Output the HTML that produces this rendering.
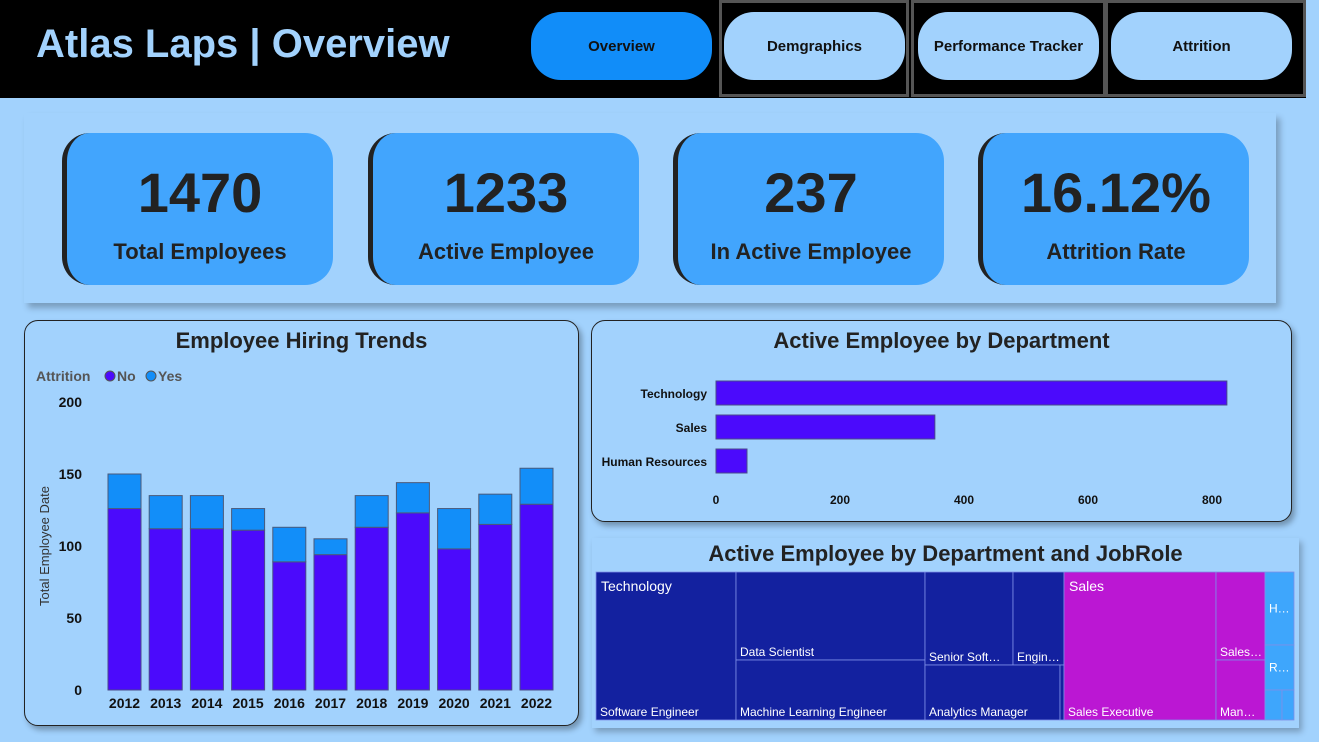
<!DOCTYPE html>
<html><head><meta charset="utf-8"><style>
*{box-sizing:border-box;margin:0;padding:0}
body{width:1319px;height:742px;background:#a2d2fd;font-family:"Liberation Sans","DejaVu Sans",sans-serif;position:relative;overflow:hidden}
.abs{position:absolute}
.hdr{left:0;top:0;width:1306px;height:98px;background:#000}
.title{left:36px;top:22px;font-size:40px;font-weight:bold;color:#a2d2fd}
.navbox{top:0;height:97px;border:3px solid #555}
.btn{top:12px;height:68px;border-radius:30px;background:#a2d2fd;font-weight:bold;font-size:15px;color:#111;display:flex;align-items:center;justify-content:center}
.kpibox{left:24px;top:113px;width:1252px;height:190px;background:#a2d2fd;box-shadow:4px 5px 6px rgba(0,0,0,.25)}
.card{top:133px;width:271px;height:152px;background:#42a5fd;border-radius:28px;border-left:5px solid #222;text-align:center;color:#222}
.card .v{font-size:56px;font-weight:bold;margin-top:30px;line-height:60px}
.card .l{font-size:22px;font-weight:bold;margin-top:16px}
.panel{border:1.5px solid #222;border-radius:14px;background:#a2d2fd;box-shadow:3px 4px 6px rgba(0,0,0,.3)}
.pt{font-size:22px;font-weight:bold;color:#222;text-align:center}
</style></head><body>
<div class="abs hdr"></div>
<div class="abs title">Atlas Laps | Overview</div>
<div class="abs navbox" style="left:719px;width:190px"></div>
<div class="abs navbox" style="left:911px;width:195px"></div>
<div class="abs navbox" style="left:1105px;width:201px"></div>
<div class="abs btn" style="left:531px;width:181px;background:#118df9">Overview</div>
<div class="abs btn" style="left:724px;width:181px">Demgraphics</div>
<div class="abs btn" style="left:918px;width:181px">Performance Tracker</div>
<div class="abs btn" style="left:1111px;width:181px">Attrition</div>

<div class="abs kpibox"></div>
<div class="abs card" style="left:62px"><div class="v">1470</div><div class="l">Total Employees</div></div>
<div class="abs card" style="left:368px"><div class="v">1233</div><div class="l">Active Employee</div></div>
<div class="abs card" style="left:673px"><div class="v">237</div><div class="l">In Active Employee</div></div>
<div class="abs card" style="left:978px"><div class="v">16.12%</div><div class="l">Attrition Rate</div></div>

<div class="abs panel" style="left:24px;top:320px;width:555px;height:406px"></div>
<div class="abs pt" style="left:24px;top:328px;width:555px">Employee Hiring Trends</div>

<div class="abs panel" style="left:591px;top:320px;width:701px;height:202px"></div>
<div class="abs pt" style="left:591px;top:328px;width:701px">Active Employee by Department</div>

<div class="abs" style="left:592px;top:538px;width:707px;height:190px;background:#a2d2fd;box-shadow:3px 4px 6px rgba(0,0,0,.25)"></div>
<div class="abs pt" style="left:592px;top:541px;width:707px">Active Employee by Department and JobRole</div>
<svg class="abs" style="left:0;top:0" width="1319" height="742" id="svg2"></svg>
<svg class="abs" style="left:0;top:0" width="1319" height="742" id="svg1"></svg>

<script>
const years=["2012","2013","2014","2015","2016","2017","2018","2019","2020","2021","2022"];
const noVals=[126,112,112,111,89,94,113,123,98,115,129];
const yesVals=[24,23,23,15,24,11,22,21,28,21,25];
const yTicks=[0,50,100,150,200];
const depts=["Technology","Sales","Human Resources"];
const deptVals=[824,353,50];
const xTicks=[0,200,400,600,800];
const NS="http://www.w3.org/2000/svg";
function mk(svg,tag,attrs,txt){const e=document.createElementNS(NS,tag);for(const k in attrs)e.setAttribute(k,attrs[k]);if(txt!==undefined)e.textContent=txt;svg.appendChild(e);return e;}
const s1=document.getElementById('svg1');
const y=v=>690-v*1.44;
const bx=i=>108+i*41.2;
let t=mk(s1,'text',{x:36,y:381,'font-size':14,'font-weight':'bold',fill:'#555'},'Attrition');

let c=mk(s1,'circle',{cx:110,cy:376,r:5,fill:'#4b0afc',stroke:'#555'});

t=mk(s1,'text',{x:117,y:381,'font-size':14,'font-weight':'bold',fill:'#555'},'No');

c=mk(s1,'circle',{cx:151,cy:376,r:5,fill:'#128ef9',stroke:'#555'});

t=mk(s1,'text',{x:158,y:381,'font-size':14,'font-weight':'bold',fill:'#555'},'Yes');

yTicks.forEach(v=>{const e=mk(s1,'text',{x:82,y:y(v)+5,'font-size':14,'font-weight':'bold','text-anchor':'end',fill:'#111'},v);
});
t=mk(s1,'text',{x:0,y:0,'font-size':13,fill:'#333','text-anchor':'middle',transform:'translate(49,546) rotate(-90)'},'Total Employee Date');

years.forEach((yr,i)=>{
 const x=bx(i),w=33;
 let r=mk(s1,'rect',{x:x,y:y(noVals[i]),width:w,height:y(0)-y(noVals[i]),fill:'#4b0afc',stroke:'#4a4a8a','stroke-width':1});
 
 r=mk(s1,'rect',{x:x,y:y(noVals[i]+yesVals[i]),width:w,height:y(noVals[i])-y(noVals[i]+yesVals[i]),fill:'#128ef9',stroke:'#4a5a7a','stroke-width':1});
 
 const e=mk(s1,'text',{x:x+w/2,y:708,'font-size':14,'font-weight':'bold','text-anchor':'middle',fill:'#111'},yr);
 
});
const dx=v=>716+v*0.62;
depts.forEach((d,i)=>{
 const yy=381+i*34;
 let r=mk(s1,'rect',{x:dx(0),y:yy,width:dx(deptVals[i])-dx(0),height:24,fill:'#4b0afc',stroke:'#4a4a8a'});
 
 const e=mk(s1,'text',{x:707,y:yy+17,'font-size':12,'font-weight':'bold','text-anchor':'end',fill:'#111'},d);
 
});
xTicks.forEach(v=>{const e=mk(s1,'text',{x:dx(v),y:504,'font-size':12,'font-weight':'bold','text-anchor':'middle',fill:'#111'},v);
});

const s2=document.getElementById('svg2');
const cells=[
 [596,572,140,148,'#13219f','Software Engineer','Technology'],
 [736,572,189,88,'#13219f','Data Scientist',''],
 [736,660,189,60,'#13219f','Machine Learning Engineer',''],
 [925,572,88,93,'#13219f','Senior Soft…',''],
 [1013,572,51,93,'#13219f','Engin…',''],
 [925,665,135,55,'#13219f','Analytics Manager',''],
 [1060,665,4,55,'#13219f','',''],
 [1064,572,152,148,'#bb17d3','Sales Executive','Sales'],
 [1216,572,49,88,'#bb17d3','Sales…',''],
 [1216,660,49,60,'#bb17d3','Man…',''],
 [1265,572,29,73,'#3ea6fc','H…',''],
 [1265,645,29,45,'#3ea6fc','R…',''],
 [1265,690,17,30,'#3ea6fc','',''],
 [1282,690,12,30,'#3ea6fc','','']
];
cells.forEach(cl=>{
 const [x,yy,w,h,f,lab,top]=cl;
 const r=mk(s2,'rect',{x:x,y:yy,width:w,height:h,fill:f,stroke:'#7f8fe8','stroke-width':0.8});
 
 if(lab){const e=mk(s2,'text',{x:x+4,y:(h<80&&w<40)?yy+h/2+4:yy+h-4,'font-size':12,fill:'#fff'},lab);
  }
 if(top){const e=mk(s2,'text',{x:x+5,y:yy+19,'font-size':14,fill:'#fff'},top);
  }
});
</script>
</body></html>
